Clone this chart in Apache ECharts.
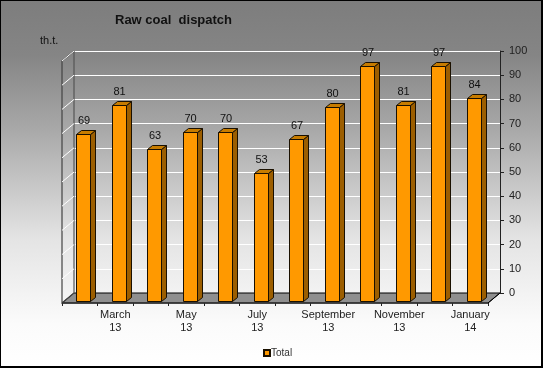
<!DOCTYPE html>
<html><head><meta charset="utf-8">
<style>html,body{margin:0;padding:0;background:#fff}#c{width:543px;height:368px;background:linear-gradient(to bottom,#7d7d7d 0%,#858585 15%,#a8a8a8 35%,#e4e4e4 65%,#fbfbfb 88%,#ffffff 100%)}</style>
<script src="https://cdn.jsdelivr.net/npm/echarts@6/dist/echarts.min.js"></script>
</head><body><div id="c"></div>
<script>
var months = ['February\n13','March\n13','April\n13','May\n13','June\n13','July\n13','August\n13','September\n13','October\n13','November\n13','December\n13','January\n14'];
var totals = [69,81,63,70,70,53,67,80,97,81,97,84];
var ticks = [0,10,20,30,40,50,60,70,80,90,100];
var DX=-12, DY=10;
var chart = echarts.init(document.getElementById('c'),null,{renderer:'canvas'});
var font='Liberation Sans, Arial, sans-serif';
function wallItem(params, api){
  var v=api.value(0);
  var p=api.coord([0,v]);
  var left=params.coordSys.x;
  var y=p[1];
  if(v===ticks[0]) return {type:'group',children:[]};
  return {type:'line',shape:{x1:left,y1:y,x2:left+DX,y2:y+DY},style:{stroke:'#ffffff',lineWidth:1},silent:true};
}
function frameItem(params, api){
  var cs=params.coordSys, l=cs.x, r=l+cs.width, t=cs.y, b=t+cs.height;
  return {type:'group',silent:true,children:[
    {type:'polygon',shape:{points:[[l,b],[r,b],[r+DX,b+DY],[l+DX,b+DY]]},style:{fill:'#8f8f8f',stroke:'#000',lineWidth:1}},
    {type:'line',shape:{x1:l,y1:t,x2:l,y2:b},style:{stroke:'#555',lineWidth:1.2}},
    {type:'polyline',shape:{points:[[l,t],[l+DX,t+DY],[l+DX,b+DY],[l,b]]},style:{stroke:'#444',fill:null,lineWidth:1.2}},
    {type:'line',shape:{x1:l+DX,y1:b+DY,x2:r+DX,y2:b+DY},style:{stroke:'#333',lineWidth:1.5}},
    {type:'line',shape:{x1:r,y1:b,x2:r+DX,y2:b+DY},style:{stroke:'#000',lineWidth:1}}
  ]};
}
function barItem(params, api){
  var cat=api.value(0), v=api.value(1);
  var top=api.coord([cat,v]), base=api.coord([cat,0]);
  var w=14, d=5, h=4;
  var cx=top[0]-8.25;
  var yb=base[1]+8, yt=top[1]+8;
  var x0=Math.floor(cx-7)+0.5, x1=x0+w;
  yb=Math.round(yb)+0.5; yt=Math.round(yt)+0.5;
  return {type:'group',children:[
    {type:'polygon',shape:{points:[[x1,yt],[x1+d,yt-h],[x1+d,yb-h],[x1,yb]]},style:{fill:'#9c5e00',stroke:'#1a1000',lineWidth:1}},
    {type:'polygon',shape:{points:[[x0,yt],[x0+d,yt-h],[x1+d,yt-h],[x1,yt]]},style:{fill:'#c77c00',stroke:'#1a1000',lineWidth:1}},
    {type:'rect',shape:{x:x0,y:yt,width:w,height:yb-yt},style:{fill:'#ff9900',stroke:'#1a1000',lineWidth:1}},
    {type:'text',style:{text:String(v),x:cx+0.5,y:yt-8,align:'center',verticalAlign:'bottom',font:'11px '+font,fill:'#111'}}
  ]};
}
chart.setOption({
  animation:false,
  title:[
    {text:'Raw coal  dispatch',left:110,top:9,textStyle:{fontFamily:font,fontSize:13,fontWeight:'bold',color:'#111'}},
    {text:'th.t.',left:35,top:30,textStyle:{fontFamily:font,fontSize:11,fontWeight:'normal',color:'#111'}}
  ],
  legend:{data:['Total'],left:258,top:343,itemWidth:6,itemHeight:6,icon:'rect',textStyle:{fontFamily:font,fontSize:10,color:'#333',padding:[0,0,0,-4]}},
  grid:[
    {left:74,right:43,top:51,bottom:75},
    {left:62,right:55,top:61,bottom:65}
  ],
  xAxis:[
    {gridIndex:0,type:'category',data:months,axisLine:{show:false},axisTick:{show:false},axisLabel:{show:false},splitLine:{show:false}},
    {gridIndex:1,type:'category',data:months,position:'bottom',axisLine:{show:false},
     axisTick:{show:true,alignWithLabel:false,interval:0,length:3,lineStyle:{color:'#222'}},
     axisLabel:{interval:function(i){return i%2===1;},margin:5,fontFamily:font,fontSize:11,color:'#222',lineHeight:13},splitLine:{show:false}}
  ],
  yAxis:[
    {gridIndex:0,type:'value',position:'right',min:0,max:100,interval:10,axisLine:{show:true,lineStyle:{color:'#222',width:1}},
     axisTick:{show:true,length:4,lineStyle:{color:'#222'}},axisLabel:{margin:9,fontFamily:font,fontSize:11,color:'#222'},
     splitLine:{show:true,lineStyle:{color:'#ffffff',width:1}}},
    {gridIndex:1,type:'value',min:0,max:100,show:false}
  ],
  series:[
    {type:'custom',name:'frame',xAxisIndex:0,yAxisIndex:0,coordinateSystem:'cartesian2d',data:[[0,0]],renderItem:frameItem,silent:true,z:1,encode:{x:0,y:1}},
    {type:'custom',name:'walls',xAxisIndex:0,yAxisIndex:0,data:ticks.map(function(t){return [t];}),renderItem:wallItem,silent:true,z:1,encode:{y:0}},
    {type:'custom',name:'Total',xAxisIndex:0,yAxisIndex:0,data:totals.map(function(v,i){return [i,v];}),renderItem:barItem,z:3,itemStyle:{color:'#ff9900',borderColor:'#1a1000',borderWidth:1},encode:{x:0,y:1}}
  ]
});
</script>
<div style="position:fixed;left:0;top:0;width:543px;height:368px;box-sizing:border-box;border:1px solid #000;border-right-width:2px;border-bottom-width:2px;pointer-events:none"></div>
</body></html>
